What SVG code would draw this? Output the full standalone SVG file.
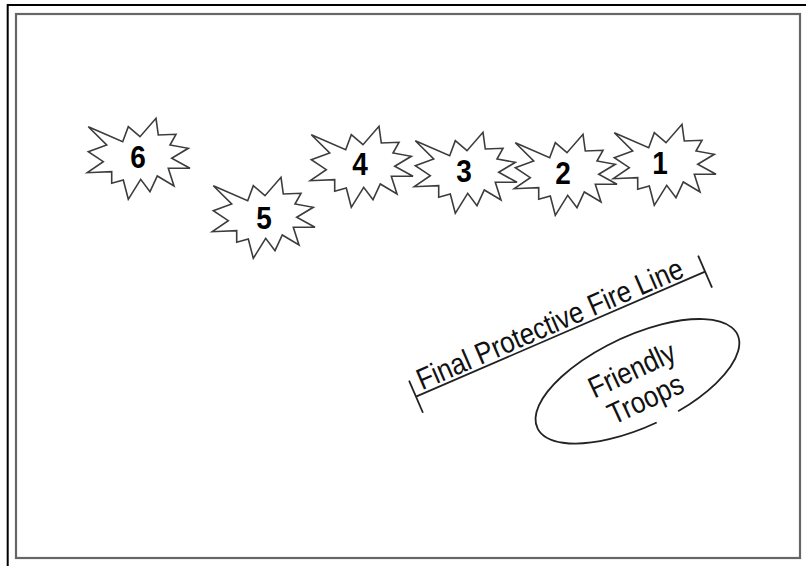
<svg xmlns="http://www.w3.org/2000/svg" xmlns:xlink="http://www.w3.org/1999/xlink" width="806" height="566" viewBox="0 0 806 566">
  <style>
    .frame-outer { stroke: #000; stroke-width: 2; fill: none; }
    .frame-inner { stroke: #666; stroke-width: 2.2; fill: none; }
    .burst { fill: none; stroke: #3c3c3c; stroke-width: 1.6; stroke-linejoin: miter; }
    .num { font-family: "Liberation Sans", Arial, sans-serif; font-weight: bold; font-size: 28px; fill: #000; text-anchor: middle; }
    .lbl { font-family: "Liberation Sans", Arial, sans-serif; font-size: 26px; fill: #111; }
    .ln { stroke: #222; stroke-width: 1.8; fill: none; }
  </style>
  <defs>
    <path id="burst" d="M-49.7,-31.3 L-15.3,-16.3 L-9.7,-31.3 L2,-21.3 L18,-39.7 L20.3,-23 L38,-23.7 L32,-13 L50.3,-9.7 L33.7,0.3 L52,10.3 L30.3,10.3 L36,28 L19.3,18 L12,33.7 L2.7,21.3 L-9.7,41.3 L-14.7,22 L-26.3,25.3 L-26.3,13.7 L-50.7,14.7 L-34.7,3.7 L-49.7,-6.3 L-31.3,-13 Z"/>
  </defs>
  <rect width="806" height="566" fill="#fff"/>
  <g id="frame">
    <polyline class="frame-outer" points="7.7,566 7.7,5 806,5"/>
    <rect class="frame-inner" x="16" y="14" width="784" height="544"/>
  </g>
  <g id="burst-6">
    <use xlink:href="#burst" href="#burst" class="burst" x="138" y="158"/>
    <text class="num" transform="translate(138,168) scale(1,1.12)">6</text>
  </g>
  <g id="burst-5">
    <use xlink:href="#burst" href="#burst" class="burst" x="263" y="217"/>
    <text class="num" transform="translate(264,228.5) scale(1,1.12)">5</text>
  </g>
  <g id="burst-4">
    <use xlink:href="#burst" href="#burst" class="burst" x="361" y="166"/>
    <text class="num" transform="translate(360,175) scale(1,1.12)">4</text>
  </g>
  <g id="burst-3">
    <use xlink:href="#burst" href="#burst" class="burst" x="465" y="172"/>
    <text class="num" transform="translate(464,181.5) scale(1,1.12)">3</text>
  </g>
  <g id="burst-2">
    <use xlink:href="#burst" href="#burst" class="burst" x="565" y="174"/>
    <text class="num" transform="translate(563,184) scale(1,1.12)">2</text>
  </g>
  <g id="burst-1">
    <use xlink:href="#burst" href="#burst" class="burst" x="664" y="164"/>
    <text class="num" transform="translate(660,174) scale(1,1.12)">1</text>
  </g>
  <g id="connectors">
    <g id="fpf-line" transform="translate(416,396.7) rotate(-23.4)">
      <line class="ln" x1="0" y1="0" x2="315" y2="0"/>
      <line class="ln" x1="0" y1="-17.5" x2="0" y2="17.5"/>
      <line class="ln" x1="315" y1="-17.5" x2="315" y2="17.5"/>
      <text class="lbl" transform="translate(8,-3.5) scale(1,1.15)">Final Protective Fire Line</text>
    </g>
  </g>
  <g id="friendly-troops">
    <path class="ln" d="M 678.1 411.3 A 110.4 45.5 -25 1 0 656.7 422.5"/>
    <g transform="translate(639,385) rotate(-25)">
      <text class="lbl" text-anchor="middle" transform="translate(0,-6.5) scale(1,1.15)">Friendly</text>
      <text class="lbl" text-anchor="middle" transform="translate(0,25.5) scale(1,1.15)">Troops</text>
    </g>
  </g>
</svg>
